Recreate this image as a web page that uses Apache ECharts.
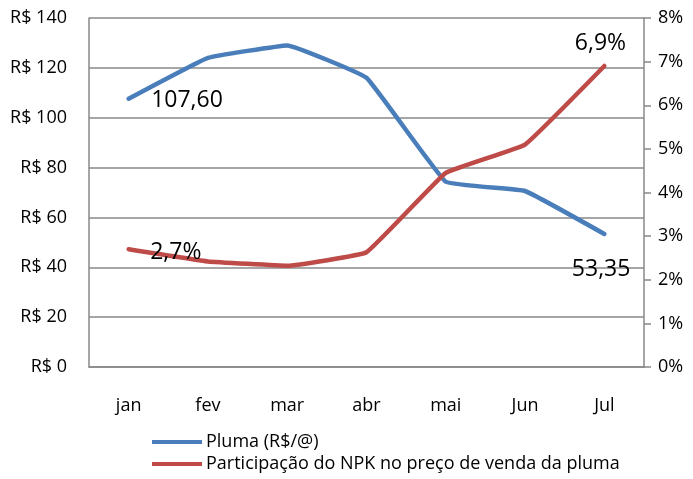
<!DOCTYPE html>
<html><head><meta charset="utf-8">
<script src="https://cdn.jsdelivr.net/npm/echarts@6/dist/echarts.min.js"></script>
<style>html,body{margin:0;padding:0;background:#fff}#c{width:693px;height:479px}</style>
</head><body><div id="c"></div>
<script>
var categories = ['jan','fev','mar','abr','mai','Jun','Jul'];
var pluma = [107.60, 124.0, 129.0, 116.0, 74.3, 70.6, 53.35];
var npk = [2.7, 2.42, 2.32, 2.63, 4.45, 5.1, 6.9];
var leftTicks = ['R$ 0','R$ 20','R$ 40','R$ 60','R$ 80','R$ 100','R$ 120','R$ 140'];
var seriesNames = ['Pluma (R$/@)', 'Participação do NPK no preço de venda da pluma'];

var FONT = 'Open Sans';
var FS = 18;
var lblStyle = {show:true, fontFamily:FONT, fontSize:23, color:'#000'};
function fmtComma(v, d){ return v.toFixed(d).replace('.', ','); }

var plumaData = pluma.map(function(v,i){
  var o = {value:v};
  if(i===0) o.label = Object.assign({}, lblStyle, {position:[23,-9], formatter:fmtComma(v,2)});
  if(i===pluma.length-1) o.label = Object.assign({}, lblStyle, {position:[-32,24], formatter:fmtComma(v,2)});
  return o;
});
var npkData = npk.map(function(v,i){
  var o = {value:v};
  if(i===0) o.label = Object.assign({}, lblStyle, {position:[22,-8], formatter:fmtComma(v,1)+'%'});
  if(i===npk.length-1) o.label = Object.assign({}, lblStyle, {position:[-29,-34], formatter:fmtComma(v,1)+'%'});
  return o;
});

var chart = echarts.init(document.getElementById('c'), null, {renderer:'canvas'});
chart.setOption({
  animation:false,
  grid:{left:89, right:49, top:18, bottom:112, containLabel:false},
  legend:{
    orient:'vertical', left:147, top:428, itemGap:4, itemWidth:50, itemHeight:4,
    icon:'rect',
    textStyle:{fontFamily:FONT, fontSize:FS, color:'#000', padding:[0,0,0,-1]},
    data:[
      {name:seriesNames[0], itemStyle:{color:'#4a7ebb', opacity:1}},
      {name:seriesNames[1], itemStyle:{color:'#be4b48', opacity:1}}
    ]
  },
  xAxis:{
    type:'category', data:categories, boundaryGap:true,
    axisLine:{lineStyle:{color:'#888', width:1.5}},
    axisTick:{show:false},
    axisLabel:{fontFamily:FONT, fontSize:FS, color:'#000', margin:30}
  },
  yAxis:[{
    type:'value', min:0, max:140, interval:20,
    axisLine:{show:true, lineStyle:{color:'#888', width:1.5}},
    axisTick:{show:false},
    splitLine:{lineStyle:{color:'#888', width:1.5}},
    axisLabel:{fontFamily:FONT, fontSize:FS, color:'#000', margin:22,
      formatter:function(v){return leftTicks[Math.round(v/20)];}}
  },{
    type:'value', min:0, max:8, interval:1, position:'right',
    axisLine:{show:true, lineStyle:{color:'#888', width:1.5}},
    axisTick:{show:true, inside:false, length:7, lineStyle:{color:'#888', width:1.5}},
    splitLine:{show:false},
    axisLabel:{fontFamily:FONT, fontSize:FS, color:'#000', margin:14,
      formatter:function(v){return v+'%';}}
  }],
  series:[{
    name:seriesNames[0], type:'line', yAxisIndex:0, data:plumaData,
    smooth:0.08, symbol:'circle', symbolSize:1, showSymbol:true,
    lineStyle:{color:'#4a7ebb', width:4.5, cap:'round'},
    itemStyle:{color:'#4a7ebb'}
  },{
    name:seriesNames[1], type:'line', yAxisIndex:1, data:npkData,
    smooth:0.08, symbol:'circle', symbolSize:1, showSymbol:true,
    lineStyle:{color:'#be4b48', width:4.5, cap:'round'},
    itemStyle:{color:'#be4b48'}
  }]
});
</script></body></html>
